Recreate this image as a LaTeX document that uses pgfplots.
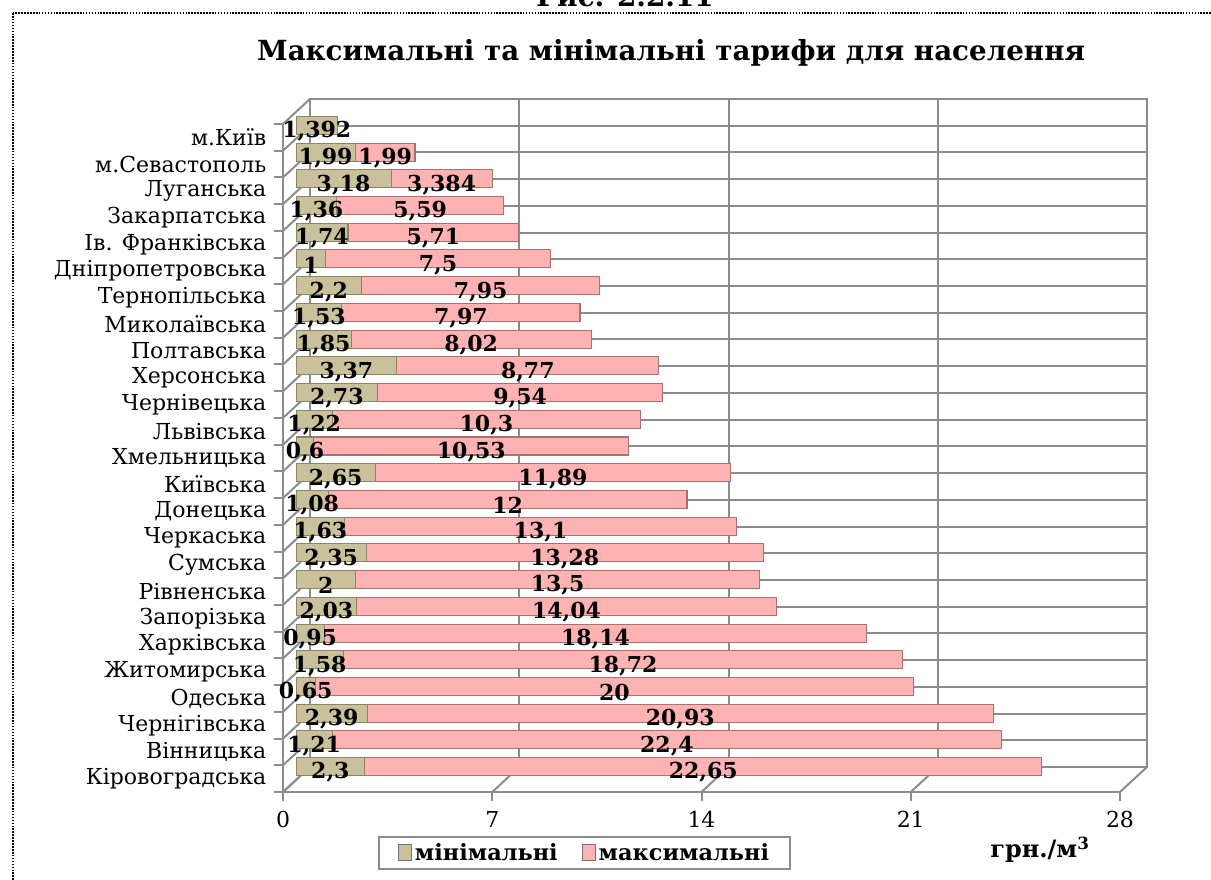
\documentclass[border=0pt]{standalone}
\usepackage{pgfplots}
\pgfplotsset{compat=1.18}
\usepackage{pgfplotstable}
\usepackage{fontspec}
\setmainfont{DejaVu Serif}
\definecolor{gridc}{RGB}{140,140,140}
\definecolor{minc}{RGB}{200,193,155}
\definecolor{mind}{RGB}{140,134,98}
\definecolor{maxc}{RGB}{255,178,178}
\definecolor{maxd}{RGB}{170,112,112}

\pgfplotstableread{
idx min max
24 1.392 0
23 1.99 1.99
22 3.18 3.384
21 1.36 5.59
20 1.74 5.71
19 1 7.5
18 2.2 7.95
17 1.53 7.97
16 1.85 8.02
15 3.37 8.77
14 2.73 9.54
13 1.22 10.3
12 0.6 10.53
11 2.65 11.89
10 1.08 12
9 1.63 13.1
8 2.35 13.28
7 2 13.5
6 2.03 14.04
5 0.95 18.14
4 1.58 18.72
3 0.65 20
2 2.39 20.93
1 1.21 22.4
0 2.3 22.65
}\datatable

\newcommand\lab{\fontsize{16.5}{18}\selectfont}
\newcommand\blab{\fontsize{16.5}{18}\selectfont\bfseries}

\pgfplotsset{base/.style={scale only axis, width=627.75pt, height=501pt,
  xmin=0, xmax=28, ymin=-0.5, ymax=24.5, anchor=south west}}

\begin{document}
\begin{tikzpicture}[x=0.75pt,y=-0.75pt]
\useasboundingbox (0,0) rectangle (1211,880);
\draw[densely dotted, line width=1.2pt] (13,13) rectangle (1240,900);
\node[font=\fontsize{20.8}{23}\selectfont\bfseries] at (625,-4) {Рис. 2.2.11};
\node[font=\fontsize{20.8}{23}\selectfont\bfseries] at (671,53) {Максимальні та мінімальні тарифи для населення};

% back wall
\begin{axis}[base, at={(232.5pt,-575.25pt)}, xtick={0,7,14,21,28}, ytick={-0.5,0.5,...,24.5},
  xticklabels={}, yticklabels={}, major tick length=0pt, grid=major,
  grid style={gridc, line width=1.5pt}, axis line style={gridc, line width=1.5pt}]
\end{axis}

\foreach \j in {0,...,25} \draw[gridc, line width=1.5pt] (283,{792-\j*26.72}) -- (310,{767-\j*26.72});
\foreach \i in {0,...,4} \draw[gridc, line width=1.5pt] ({283+\i*209.25},792) -- ({310+\i*209.25},767);

% front axis
\begin{axis}[base, at={(212.25pt,-594pt)}, axis x line*=bottom, axis y line*=left,
  axis line style={gridc, line width=1.5pt, -},
  xtick={0,7,14,21,28}, minor xtick={0,7,14,21,28},
  ytick={0,...,24}, minor ytick={-0.5,0.5,...,24.5},
  yticklabels={Кіровоградська, Вінницька, Чернігівська, Одеська, Житомирська, Харківська, Запорізька, Рівненська, Сумська, Черкаська, Донецька, Київська, Хмельницька, Львівська, Чернівецька, Херсонська, Полтавська, Миколаївська, Тернопільська, Дніпропетровська, Ів. Франківська, Закарпатська, Луганська, м.Севастополь, м.Київ},
  major tick length=0pt, minor tick length=7pt, tick align=outside,
  minor tick style={gridc, line width=1.5pt},
  ticklabel style={font=\lab}, xticklabel style={yshift=-11pt}, yticklabel style={xshift=-9pt},
  /pgf/number format/assume math mode=true]
\end{axis}

% bars
\begin{axis}[base, at={(222pt,-585pt)}, hide axis, xbar stacked, bar width=13.5pt,
  legend style={at={(axis description cs:0.345,-0.109)}, anchor=center, legend columns=2,
    draw=gridc, line width=1.5pt, font=\fontsize{16.8}{19}\selectfont\bfseries,
    inner xsep=14pt, inner ysep=3pt,
    /tikz/every even column/.append style={column sep=16pt}},
  legend image code/.code={\draw[#1, draw=black!55, line width=0.8pt] (0pt,-6pt) rectangle (10pt,6pt);}]
\addplot[draw=mind, line width=0.8pt, fill=minc] table[x=min,y=idx]{\datatable};
\addplot[draw=maxd, line width=0.8pt, fill=maxc] table[x=max,y=idx]{\datatable};
\legend{мінімальні, максимальні}
\end{axis}

% value labels
\begin{axis}[base, at={(222pt,-589.5pt)}, hide axis, point meta=explicit,
  nodes near coords={\pgfmathprintnumber[use comma, fixed, precision=3, assume math mode=true]{\pgfplotspointmeta}},
  nodes near coords style={font=\blab, anchor=center, inner sep=0pt}]
\addplot[only marks, mark=none] table[x expr=\thisrow{min}/2, y=idx, meta=min]{\datatable};
\addplot[only marks, mark=none, skip coords between index={0}{1}] table[x expr=\thisrow{min}+\thisrow{max}/2, y=idx, meta=max]{\datatable};
\end{axis}

\node[font=\fontsize{18}{20}\selectfont\bfseries] at (1040,850) {грн./м\textsuperscript{3}};
\end{tikzpicture}
\end{document}
